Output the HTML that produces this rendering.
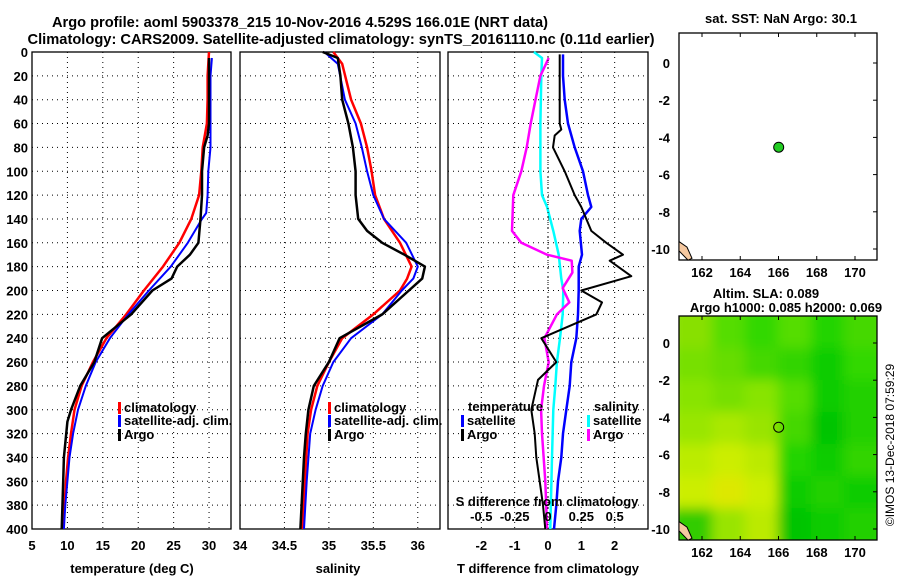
<!DOCTYPE html>
<html><head><meta charset="utf-8">
<style>
html,body{margin:0;padding:0;background:#fff;}
svg{display:block;font-family:"Liberation Sans",sans-serif;font-weight:bold;}
</style></head>
<body>
<svg id="chart" width="900" height="580" viewBox="0 0 900 580" xmlns="http://www.w3.org/2000/svg">
<text x="300" y="27" text-anchor="middle" font-size="15" textLength="496" lengthAdjust="spacingAndGlyphs">Argo profile: aoml 5903378_215 10-Nov-2016 4.529S 166.01E (NRT data)</text>
<text x="341" y="44" text-anchor="middle" font-size="15" textLength="627" lengthAdjust="spacingAndGlyphs">Climatology: CARS2009. Satellite-adjusted climatology: synTS_20161110.nc (0.11d earlier)</text>
<g id="panels"></g>
</svg>
<script>
// ---------- data ----------
const depthTicks = [0,20,40,60,80,100,120,140,160,180,200,220,240,260,280,300,320,340,360,380,400];
const tempTicks = [5,10,15,20,25,30];
const salTicks = [34,34.5,35,35.5,36];
const tdiffTicks = [-2,-1,0,1,2];
const sdiffTicks = [-0.5,-0.25,0,0.25,0.5];
const sdiffTickLabels = ["-0.5","-0.25","0","0.25","0.5"];

const tClimDepth = [0,20,40,60,80,100,120,140,160,180,200,220,240,260,280,300,320,340,360,380,400];
const tClim      = [30,29.8,29.8,29.7,29.1,28.9,28.6,27.5,25.8,23.5,20.8,18.3,15.5,13.6,12,11,10.5,10.1,9.8,9.6,9.4];
const tSatDepth  = [5,20,40,60,80,100,120,135,140,160,180,200,220,240,260,280,300,320,340,360,380,400];
const tSat       = [30.4,30.2,30.2,30.2,30.2,29.9,29.8,29.6,29,27,24.6,21.5,18.6,16,14,12.6,11.5,10.8,10.3,10,9.7,9.5];
const tArgoDepth = [5,60,70,80,100,120,140,160,170,180,190,200,220,240,260,280,300,310,340,360,400];
const tArgo      = [30,30,29.8,29.3,29,29,28.8,28.5,27.3,25.5,24.7,22,19,14.9,13.8,11.8,10.5,10,9.5,9.4,9.2];

const sClimDepth = [0,10,40,60,80,100,120,140,160,180,190,200,220,240,260,280,300,320,360,400];
const sClim      = [35.05,35.15,35.25,35.36,35.43,35.48,35.52,35.62,35.8,35.93,35.88,35.8,35.5,35.15,35.0,34.87,34.8,34.76,34.73,34.7];
const sSatDepth  = [0,10,40,60,80,100,120,140,160,180,190,200,220,240,260,280,300,320,360,400];
const sSat       = [34.95,35.1,35.18,35.3,35.37,35.43,35.5,35.62,35.87,36.0,35.95,35.82,35.6,35.25,35.05,34.93,34.85,34.79,34.75,34.72];
const sArgoDepth = [0,5,20,40,60,80,100,120,140,150,160,170,180,190,200,220,240,260,280,300,320,340,400];
const sArgo      = [34.93,35.1,35.13,35.15,35.22,35.27,35.3,35.3,35.33,35.43,35.6,35.85,36.08,36.05,35.9,35.6,35.12,35.0,34.83,34.77,34.74,34.72,34.68];

const dtSatDepth = [2,20,40,60,80,100,120,130,140,150,170,180,200,220,240,260,280,300,320,340,360,380,400];
const dtSat      = [0.45,0.45,0.5,0.6,0.8,1.05,1.2,1.3,1.0,0.95,1.02,0.92,0.92,0.9,0.85,0.7,0.65,0.55,0.45,0.4,0.3,0.25,0.18];
const dtArgoDepth = [2,40,60,65,70,80,100,120,130,150,160,170,175,188,200,210,220,240,260,275,300,320,340,360,380,400];
const dtArgo      = [0.35,0.35,0.35,0.4,0.2,0.15,0.5,0.8,1.0,1.3,1.75,2.25,1.85,2.5,1.0,1.62,1.45,-0.2,0.25,-0.3,-0.5,-0.4,-0.35,-0.25,-0.15,-0.08];
const dsSatDepth = [0,5,20,60,100,120,130,150,170,190,200,220,240,260,280,300,340,400];
const dsSat      = [-0.106,-0.045,-0.05,-0.057,-0.057,-0.045,-0.007,0.04,0.08,0.1,0.115,0.11,0.09,0.067,0.055,0.04,0.03,0.017];
const dsArgoDepth = [5,20,40,60,80,100,120,150,160,170,175,185,198,210,220,240,260,280,300,320,360,400];
const dsArgo      = [0.005,-0.057,-0.094,-0.13,-0.16,-0.2,-0.26,-0.27,-0.2,-0.007,0.178,0.183,0.11,0.16,0.067,-0.027,0.005,-0.03,-0.052,-0.045,-0.02,-0.007];

const lonTicks = [162,164,166,168,170];
const latTicks = [0,-2,-4,-6,-8,-10];
const argoLon = [166.01];
const argoLat = [-4.529];
const slaColors = [
 ["#88e000","#55dd00","#33d800","#55dd00","#22d400","#44d800"],
 ["#77e000","#66dd00","#44d800","#33d400","#11cc00","#33d800"],
 ["#88e400","#77e000","#88e400","#55dd00","#11cc00","#22d000"],
 ["#99e600","#aae800","#99e400","#44d800","#00c400","#22d000"],
 ["#bbec00","#ccee00","#bbea00","#22d400","#11cc00","#33d400"],
 ["#ccee00","#dde800","#ccee00","#11cc00","#22d000","#11cc00"],
 ["#33cc00","#99e400","#bbea00","#00c400","#11cc00","#22d000"]
];

// ---------- helpers ----------
const NS = "http://www.w3.org/2000/svg";
const root = document.getElementById('panels');
function el(tag, attrs, parent, txt){
  const e = document.createElementNS(NS, tag);
  for (const k in attrs) e.setAttribute(k, attrs[k]);
  if (txt !== undefined) e.textContent = txt;
  (parent||root).appendChild(e);
  return e;
}
const Y0 = 52, Y1 = 529;
const yD = d => Y0 + d/400*(Y1-Y0);

function panel(name, x0, x1, vmin, vmax){
  const g = el('g', {});
  
  
  const r = el('rect', {x:x0, y:Y0, width:x1-x0, height:Y1-Y0, fill:'#fff', stroke:'#000', 'stroke-width':1.3}, g);
  
  
  return {g, x:v => x0 + (v-vmin)/(vmax-vmin)*(x1-x0), x0, x1};
}
function grid(p, xt){
  depthTicks.forEach(d => {
    if (d>0 && d<400) {
      const l = el('line', {x1:p.x0, x2:p.x1, y1:yD(d), y2:yD(d), stroke:'#000', 'stroke-width':1, 'stroke-dasharray':'1,4'}, p.g);
      
      
    }
  });
  xt.forEach(v => {
    const x = p.x(v);
    if (x>p.x0+1 && x<p.x1-1) {
      const l = el('line', {x1:x, x2:x, y1:Y0, y2:Y1, stroke:'#000', 'stroke-width':1, 'stroke-dasharray':'1,4'}, p.g);
      
      
    }
  });
}
function line(p, xs, ds, color, w, name){
  const pts = xs.map((v,i) => p.x(v).toFixed(1)+','+yD(ds[i]).toFixed(1)).join(' ');
  const pl = el('polyline', {points:pts, fill:'none', stroke:color, 'stroke-width':w, 'stroke-linejoin':'round'}, p.g);
  
  
}
function txt(x, y, s, anchor, size, name, parent){
  const t = el('text', {x, y, 'text-anchor':anchor||'start', 'font-size':size||13}, parent, s);
  
  
  return t;
}
function legendEntry(x, y, color, label, parent){
  const r = el('rect', {x:x, y:y-10, width:3, height:12, fill:color}, parent);
  
  
  txt(x+6, y, label, 'start', 13, 'legend-entry', parent);
}

// ---------- temperature panel ----------
const pT = panel('temperature-panel', 32, 231, 5, 33.1);
grid(pT, tempTicks);
line(pT, tClim, tClimDepth, '#f00', 2.5, 'climatology-temp-line');
line(pT, tSat, tSatDepth, '#00f', 2, 'satellite-temp-line');
line(pT, tArgo, tArgoDepth, '#000', 2.5, 'argo-temp-line');
depthTicks.forEach(d => txt(28, yD(d)+5, String(d), 'end', 13, 'y-tick-label'));
tempTicks.forEach(v => txt(pT.x(v), 550, String(v), 'middle', 13, 'x-tick-label'));
txt(132, 573, 'temperature (deg C)', 'middle', 13, 'x-axis-title');
legendEntry(118, 412, '#f00', 'climatology', pT.g);
legendEntry(118, 425, '#00f', 'satellite-adj. clim.', pT.g);
legendEntry(118, 439, '#000', 'Argo', pT.g);

// ---------- salinity panel ----------
const pS = panel('salinity-panel', 240, 440, 34, 36.25);
grid(pS, salTicks);
line(pS, sClim, sClimDepth, '#f00', 2.5, 'climatology-salinity-line');
line(pS, sSat, sSatDepth, '#00f', 2, 'satellite-salinity-line');
line(pS, sArgo, sArgoDepth, '#000', 2.5, 'argo-salinity-line');
salTicks.forEach(v => txt(pS.x(v), 550, String(v), 'middle', 13, 'x-tick-label'));
txt(338, 573, 'salinity', 'middle', 13, 'x-axis-title');
legendEntry(328, 412, '#f00', 'climatology', pS.g);
legendEntry(328, 425, '#00f', 'satellite-adj. clim.', pS.g);
legendEntry(328, 439, '#000', 'Argo', pS.g);

// ---------- difference panel ----------
const pD = panel('difference-panel', 448, 648, -3, 3);
grid(pD, tdiffTicks);
const pDs = {g:pD.g, x:v => pD.x(v*4), x0:pD.x0, x1:pD.x1};
line(pDs, dsSat, dsSatDepth, '#0ff', 2.5, 'salinity-satellite-diff-line');
line(pDs, dsArgo, dsArgoDepth, '#f0f', 2.5, 'salinity-argo-diff-line');
line(pD, dtSat, dtSatDepth, '#00f', 2.5, 'temperature-satellite-diff-line');
line(pD, dtArgo, dtArgoDepth, '#000', 2, 'temperature-argo-diff-line');
const zl = el('line', {x1:pD.x(0), x2:pD.x(0), y1:Y0, y2:Y1, stroke:'#000', 'stroke-width':1, 'stroke-dasharray':'1,3'}, pD.g);


tdiffTicks.forEach(v => txt(pD.x(v), 550, String(v), 'middle', 13, 'x-tick-label'));
txt(548, 573, 'T difference from climatology', 'middle', 13, 'x-axis-title');
txt(547, 506, 'S difference from climatology', 'middle', 13, 'secondary-axis-title', pD.g);
sdiffTicks.forEach((v,i) => txt(pDs.x(v), 521, sdiffTickLabels[i], 'middle', 13, 'secondary-tick-label', pD.g));
txt(468, 411, 'temperature', 'start', 13, 'legend-title', pD.g);
legendEntry(461, 425, '#00f', 'satellite', pD.g);
legendEntry(461, 439, '#000', 'Argo', pD.g);
txt(594, 411, 'salinity', 'start', 13, 'legend-title', pD.g);
legendEntry(587, 425, '#0ff', 'satellite', pD.g);
legendEntry(587, 439, '#f0f', 'Argo', pD.g);

// ---------- maps ----------
function mapPanel(name, top, bottom, lat0y, latm10y){
  const x0 = 679, x1 = 877;
  const lon = v => 702 + (v-162)*(855-702)/8;
  const lat = v => lat0y + (v/-10)*(latm10y-lat0y);
  const g = el('g', {});
  
  
  return {g, x0, x1, top, bottom, lon, lat};
}
function mapFrame(m){
  const r = el('rect', {x:m.x0, y:m.top, width:m.x1-m.x0, height:m.bottom-m.top, fill:'none', stroke:'#000', 'stroke-width':1.3}, m.g);
  
  
  lonTicks.forEach(v => {
    el('line', {x1:m.lon(v), x2:m.lon(v), y1:m.bottom, y2:m.bottom-4, stroke:'#000'}, m.g);
    el('line', {x1:m.lon(v), x2:m.lon(v), y1:m.top, y2:m.top+4, stroke:'#000'}, m.g);
    txt(m.lon(v), m.bottom+17, String(v), 'middle', 13, 'map-lon-label', m.g);
  });
  latTicks.forEach(v => {
    el('line', {x1:m.x1, x2:m.x1-4, y1:m.lat(v), y2:m.lat(v), stroke:'#000'}, m.g);
    txt(m.x0-9, m.lat(v)+5, String(v), 'end', 13, 'map-lat-label', m.g);
  });
  // coastline islands
  const isl = el('path', {d:`M${m.x0} ${m.lat(-9.6)} L${m.x0+8} ${m.lat(-9.9)} L${m.x0+13} ${m.lat(-10.5)} L${m.x0+9} ${m.lat(-10.6)} L${m.x0} ${m.lat(-10.1)} Z`, fill:'#f5c8a0', stroke:'#000', 'stroke-width':1}, m.g);
  
  
}

const m1 = mapPanel('sst-map', 33, 260, 63, 249);
txt(781, 23, 'sat. SST: NaN Argo: 30.1', 'middle', 13, 'sst-map-title', m1.g).setAttribute('textLength','152');
el('rect', {x:m1.x0, y:m1.top, width:198, height:227, fill:'#fff'}, m1.g);
mapFrame(m1);
argoLon.forEach((v,i) => {
  const c = el('circle', {cx:m1.lon(v), cy:m1.lat(argoLat[i]), r:5, fill:'#2c2', stroke:'#000', 'stroke-width':1}, m1.g);
  
  
});

const m2 = mapPanel('sla-map', 316, 540, 343, 529);
txt(766, 298, 'Altim. SLA: 0.089', 'middle', 13, 'sla-map-title', m2.g);
txt(786, 312, 'Argo h1000: 0.085 h2000: 0.069', 'middle', 13, 'sla-map-subtitle', m2.g);
const defs = el('defs', {}, m2.g);
const f = el('filter', {id:'blur', x:'-10%', y:'-10%', width:'120%', height:'120%'}, defs);
el('feGaussianBlur', {stdDeviation:6}, f);
const cp = el('clipPath', {id:'m2clip'}, defs);
el('rect', {x:679, y:316, width:198, height:224}, cp);
const hg = el('g', {'clip-path':'url(#m2clip)'}, m2.g);
const hb = el('g', {filter:'url(#blur)'}, hg);
const cw = 198/6, ch = 224/7;
slaColors.forEach((row, r) => row.forEach((c, k) => {
  const cell = el('rect', {x:679+k*cw-(k===0?10:0), y:316+r*ch-(r===0?10:0), width:cw+(k===0||k===5?10:0)+1, height:ch+(r===0||r===6?10:0)+1, fill:c}, hb);
  
  
}));
mapFrame(m2);
argoLon.forEach((v,i) => {
  const c = el('circle', {cx:m2.lon(v), cy:m2.lat(argoLat[i]), r:5, fill:'none', stroke:'#000', 'stroke-width':1}, m2.g);
  
  
});

const cr = txt(0, 0, '©IMOS 13-Dec-2018 07:59:29', 'middle', 12, 'copyright-stamp');
cr.setAttribute('transform', 'translate(894,445) rotate(-90)');
cr.setAttribute('font-weight', 'normal');
</script>
</body></html>
